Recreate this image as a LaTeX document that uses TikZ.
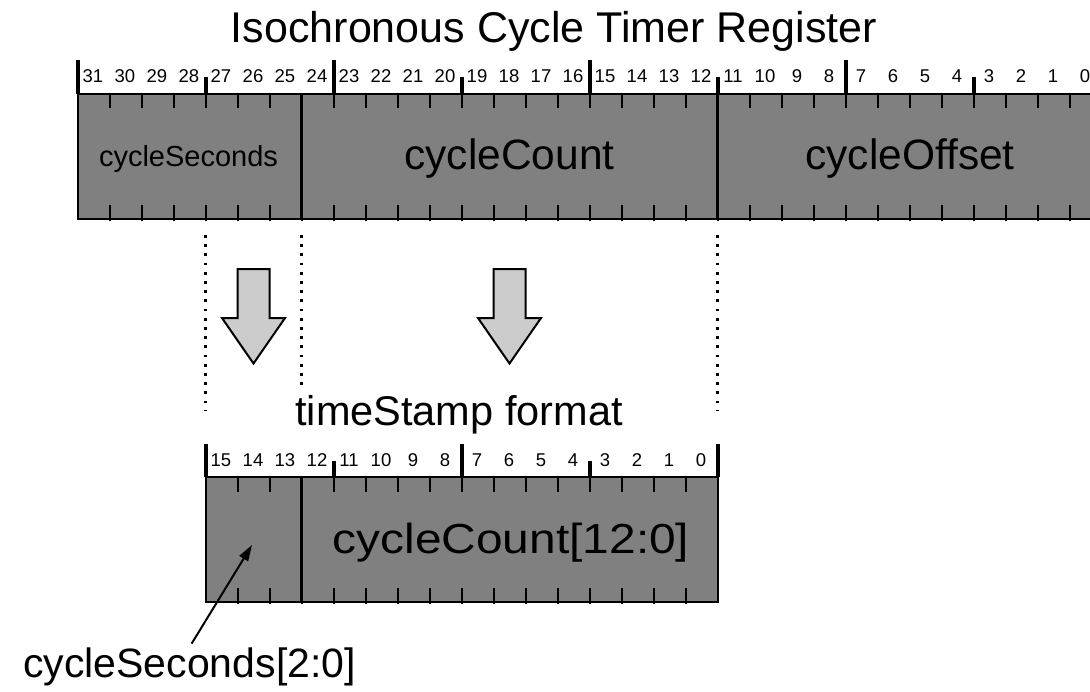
\documentclass[tikz,border=0pt]{standalone}
\usepackage{fontspec}
\usepackage{graphicx}
\setmainfont{Liberation Sans}
\usetikzlibrary{arrows.meta}
\definecolor{regfill}{HTML}{808080}
\definecolor{arrfill}{HTML}{CCCCCC}
\newcommand{\fsz}[1]{\fontsize{#1pt}{#1pt}\selectfont}
\begin{document}
\begin{tikzpicture}[x=1pt,y=-1pt,
  regbox/.style={draw=black, line width=2pt, fill=regfill},
  fieldline/.style={line width=3pt},
  bitmark/.style={line width=4pt},
  bittick/.style={line width=2pt},
  bitlabel/.style={anchor=base, inner sep=0pt, font=\fsz{18.5}},
  dotline/.style={line width=2.7pt, dash pattern=on 2.7pt off 6.5pt},
  blockarrow/.style={draw=black, line width=2pt, fill=arrfill, line join=miter},
  bigtext/.style={anchor=base, inner sep=0pt, font=\fsz{42.5}},
  pointer/.style={line width=2pt, -{Triangle[length=16pt,width=10pt]}, shorten <=4pt}
]
\useasboundingbox (0,0) rectangle (1090,691);

% ---------- title ----------
\node[anchor=base, inner sep=0pt, font=\fsz{43}] (title) at (554,42) {Isochronous Cycle Timer Register};

% ---------- upper register ----------
\draw[regbox] (77.5,94) rectangle (1101.5,219);
\foreach \i in {1,...,31}{
  \draw[bittick] ({77.5+32*\i},94) -- ({77.5+32*\i},108);
  \draw[bittick] ({77.5+32*\i},205) -- ({77.5+32*\i},221);
}
\foreach \x in {301.5,717.5}{
  \draw[fieldline] (\x,94) -- (\x,219);
}
\foreach \x in {77.5,333.5,589.5,845.5,1101.5}{
  \draw[bitmark] (\x,60) -- (\x,94);
}
\foreach \x in {205.5,461.5,717.5,973.5}{
  \draw[bitmark] (\x,77) -- (\x,94);
}
\foreach \b in {0,...,31}{
  \node[bitlabel] (u\b) at ({77.5+32*(31-\b)+15.5},82) {\b};
}
\node[anchor=base, inner sep=0pt, font=\fsz{29}] (csec) at (188.5,166) {cycleSeconds};
\node[bigtext] (ccnt) at (509.5,169) {cycleCount};
\node[bigtext] (coff) at (910,169) {cycleOffset};

% ---------- dotted guides ----------
\draw[dotline] (205.5,235) -- (205.5,411);
\draw[dotline] (301.5,235) -- (301.5,390);
\draw[dotline] (717.5,235) -- (717.5,411);

% ---------- block arrows ----------
\foreach \cx in {253.5,509.5}{
  \draw[blockarrow] ({\cx-16},269) -- ({\cx+16},269) -- ({\cx+16},318) -- ({\cx+31.5},318)
     -- (\cx,363.5) -- ({\cx-31.5},318) -- ({\cx-16},318) -- cycle;
}

% ---------- lower register ----------
\node[anchor=base, inner sep=0pt, font=\fsz{41.5}] (tsf) at (459,425) {timeStamp format};
\draw[regbox] (205.5,477) rectangle (717.5,602);
\foreach \i in {1,...,15}{
  \draw[bittick] ({205.5+32*\i},477) -- ({205.5+32*\i},492);
  \draw[bittick] ({205.5+32*\i},588) -- ({205.5+32*\i},604);
}
\draw[fieldline] (301.5,477) -- (301.5,602);
\foreach \x in {205.5,461.5,717.5}{
  \draw[bitmark] (\x,444) -- (\x,477);
}
\foreach \x in {333.5,589.5}{
  \draw[bitmark] (\x,461) -- (\x,477);
}
\foreach \b in {0,...,15}{
  \node[bitlabel] (l\b) at ({205.5+32*(15-\b)+15.5},466) {\b};
}
\node[anchor=base, inner sep=0pt, font=\fsz{42}] (ccl) at (511,553) {\scalebox{1.14}[1]{cycleCount[12:0]}};

% ---------- pointer ----------
\node[anchor=base, inner sep=0pt, font=\fsz{41}] (csl) at (189.5,677) {cycleSeconds[2:0]};
\coordinate (ptip) at (252,545);
\draw[pointer] (csl.north) -- (ptip);
\end{tikzpicture}
\end{document}
